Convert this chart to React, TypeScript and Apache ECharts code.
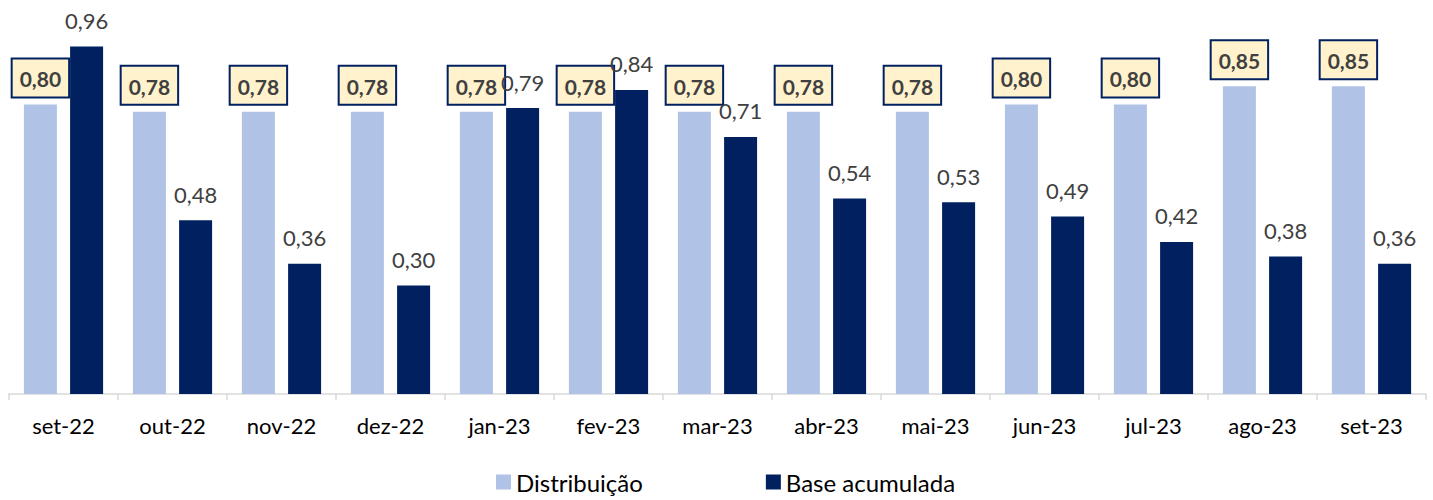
import React, { useEffect, useRef } from "react";
import * as echarts from "echarts";

const categories = ["set-22", "out-22", "nov-22", "dez-22", "jan-23", "fev-23", "mar-23", "abr-23", "mai-23", "jun-23", "jul-23", "ago-23", "set-23"];
const distribuicao = [0.80, 0.78, 0.78, 0.78, 0.78, 0.78, 0.78, 0.78, 0.78, 0.80, 0.80, 0.85, 0.85];
const baseAcumulada = [0.96, 0.48, 0.36, 0.30, 0.79, 0.84, 0.71, 0.54, 0.53, 0.49, 0.42, 0.38, 0.36];

const FONT = "Lato, 'Open Sans', sans-serif";
const fmt = (p: any) => Number(p.value).toFixed(2).replace(".", ",");

export default function App() {
  const ref = useRef<HTMLDivElement>(null);
  useEffect(() => {
    document.body.style.margin = "0";
    const chart = echarts.init(ref.current!, null, { renderer: "svg" });
    chart.setOption({
      animation: false,
      textStyle: { fontFamily: FONT },
      grid: { left: 9, right: 7, top: 32, bottom: 106, containLabel: false },
      legend: {
        left: 491,
        top: 465,
        itemWidth: 15,
        itemHeight: 15,
        itemGap: 123,
        icon: "rect",
        textStyle: { fontSize: 24, lineHeight: 24, color: "#000", fontFamily: FONT },
        data: ["Distribuição", "Base acumulada"],
      },
      xAxis: {
        type: "category",
        data: categories,
        axisLine: { lineStyle: { color: "#D9D9D9", width: 1.5 } },
        axisTick: { show: true, length: 6, lineStyle: { color: "#D9D9D9", width: 1.5 } },
        axisLabel: { fontSize: 22, color: "#000", margin: 20, fontFamily: FONT },
      },
      yAxis: {
        type: "value",
        min: 0,
        max: 1,
        show: false,
        splitLine: { show: false },
      },
      series: [
        {
          name: "Distribuição",
          type: "bar",
          data: distribuicao,
          barWidth: 33,
          barGap: "40%",
          itemStyle: { color: "#B0C3E6" },
          label: {
            show: true,
            position: "top",
            distance: 8,
            formatter: fmt,
            fontSize: 21,
            fontWeight: "bold",
            color: "#404040",
            backgroundColor: "#FFF2CC",
            borderColor: "#002060",
            borderWidth: 2,
            padding: [9, 7, 7, 7],
            fontFamily: FONT,
          },
        },
        {
          name: "Base acumulada",
          type: "bar",
          data: baseAcumulada,
          barWidth: 33,
          itemStyle: { color: "#002060" },
          label: {
            show: true,
            position: "top",
            distance: 15,
            formatter: fmt,
            fontSize: 22,
            color: "#404040",
            fontFamily: FONT,
          },
        },
      ],
    });
    return () => chart.dispose();
  }, []);
  return <div ref={ref} style={{ width: 1433, height: 500 }} />;
}
